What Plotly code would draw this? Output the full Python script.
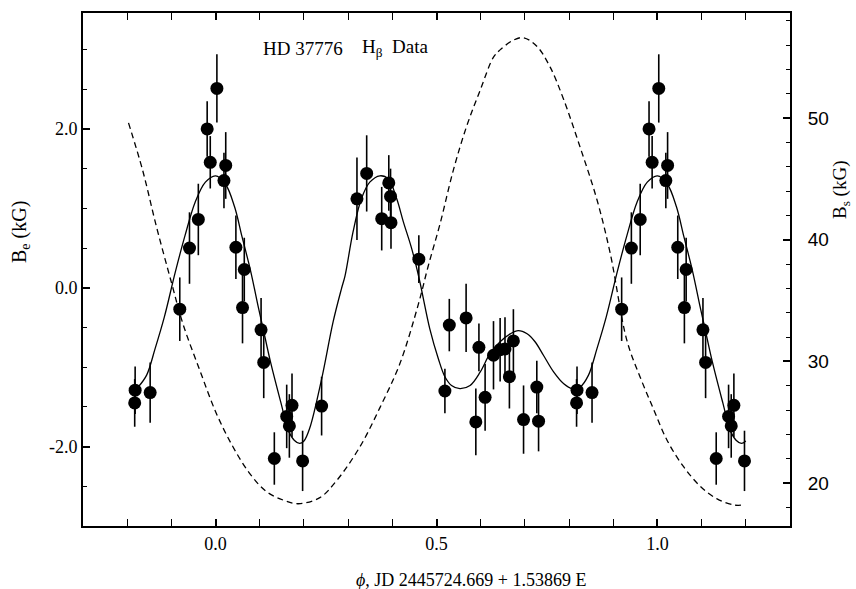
import plotly.graph_objects as go

# Measured effective field, phases folded into [0, 1)
phase = [0.003, 0.981, 0.988, 0.023, 0.019, 0.961, 0.941, 0.046, 0.065, 0.919,
         0.061, 0.103, 0.109, 0.173, 0.161, 0.167, 0.133, 0.197, 0.240, 0.320,
         0.342, 0.392, 0.396, 0.376, 0.397, 0.460, 0.529, 0.567, 0.519, 0.596,
         0.589, 0.610, 0.629, 0.644, 0.655, 0.674, 0.665, 0.697, 0.727, 0.731,
         0.818, 0.817, 0.852]
be = [2.51, 2.00, 1.58, 1.54, 1.35, 0.86, 0.50, 0.51, 0.23, -0.27,
      -0.25, -0.53, -0.94, -1.48, -1.62, -1.74, -2.15, -2.18, -1.49, 1.12,
      1.44, 1.32, 1.15, 0.87, 0.82, 0.36, -0.47, -0.38, -1.30, -0.75,
      -1.69, -1.38, -0.85, -0.78, -0.77, -0.67, -1.12, -1.66, -1.25, -1.68,
      -1.29, -1.45, -1.32]
be_err = [0.43, 0.35, 0.33, 0.42, 0.35, 0.45, 0.45, 0.40, 0.40, 0.40,
          0.45, 0.40, 0.45, 0.40, 0.40, 0.40, 0.33, 0.38, 0.37, 0.52,
          0.48, 0.35, 0.35, 0.40, 0.33, 0.30, 0.33, 0.43, 0.28, 0.30,
          0.42, 0.42, 0.43, 0.40, 0.40, 0.40, 0.40, 0.43, 0.33, 0.38,
          0.30, 0.30, 0.38]

# Model effective field over one rotation
model_phase = [0.000, 0.022, 0.043, 0.060, 0.079, 0.097, 0.107, 0.125, 0.148, 0.165,
               0.178, 0.190, 0.200, 0.213, 0.240, 0.266, 0.285, 0.293, 0.311, 0.330,
               0.349, 0.372, 0.391, 0.410, 0.425, 0.444, 0.461, 0.485, 0.504, 0.519,
               0.534, 0.553, 0.576, 0.599, 0.621, 0.644, 0.667, 0.685, 0.705, 0.723,
               0.742, 0.765, 0.788, 0.807, 0.825, 0.844, 0.863, 0.884, 0.909, 0.931,
               0.954, 0.977]
model_be = [1.41, 1.31, 1.02, 0.64, 0.22, -0.25, -0.50, -0.95, -1.45, -1.80,
            -1.92, -1.96, -1.93, -1.77, -1.15, -0.43, -0.01, 0.15, 0.70, 1.12,
            1.33, 1.41, 1.37, 1.12, 0.83, 0.49, 0.11, -0.52, -0.89, -1.12,
            -1.23, -1.27, -1.23, -1.06, -0.83, -0.68, -0.58, -0.54, -0.58, -0.68,
            -0.85, -1.06, -1.21, -1.27, -1.25, -1.10, -0.77, -0.37, 0.20, 0.66,
            1.08, 1.33]

# Model surface field
bs_phase = [-0.197, -0.165, -0.134, -0.100, -0.074, -0.036, 0.002, 0.039, 0.077, 0.115,
            0.153, 0.187, 0.236, 0.274, 0.327, 0.372, 0.417, 0.459, 0.481, 0.508,
            0.538, 0.568, 0.599, 0.629, 0.644, 0.674, 0.697, 0.727, 0.757, 0.788,
            0.825, 0.863, 0.893, 0.931, 0.961, 0.992, 1.022, 1.060, 1.098, 1.135,
            1.173, 1.196]
bs = [49.6, 45.7, 41.1, 36.5, 33.1, 29.3, 25.7, 23.0, 20.8, 19.3,
      18.6, 18.3, 18.8, 20.2, 23.0, 26.2, 29.8, 34.7, 37.8, 41.3,
      45.7, 49.3, 52.3, 55.0, 55.6, 56.4, 56.6, 55.9, 54.2, 51.5,
      47.6, 43.3, 38.9, 31.7, 28.7, 26.0, 23.5, 21.3, 19.7, 18.7,
      18.2, 18.2]

x_ticks = [0.0, 0.5, 1.0]
x_ticktext = ["0.0", "0.5", "1.0"]
be_ticks = [-2.0, 0.0, 2.0]
be_ticktext = ["-2.0", "0.0", "2.0"]
bs_ticks = [20, 30, 40, 50]
bs_ticktext = ["20", "30", "40", "50"]

PHASE_MIN, PHASE_MAX = -0.2, 1.2
CURVE_MIN = -0.18


def unfold(ph, vals, lo, hi, err=None):
    """Repeat phased values over neighbouring cycles inside [lo, hi]."""
    xs, ys, es = [], [], []
    for shift in (-1, 0, 1):
        for i, p in enumerate(ph):
            x = p + shift
            if lo <= x <= hi:
                xs.append(x)
                ys.append(vals[i])
                if err is not None:
                    es.append(err[i])
    order = sorted(range(len(xs)), key=lambda k: xs[k])
    xs = [xs[k] for k in order]
    ys = [ys[k] for k in order]
    es = [es[k] for k in order] if err is not None else None
    return xs, ys, es


mx, my, _ = unfold(model_phase, model_be, CURVE_MIN, PHASE_MAX)
dx, dy, de = unfold(phase, be, PHASE_MIN, PHASE_MAX, be_err)

serif = "Liberation Serif, Times New Roman, Times, serif"
sans = "Liberation Sans, Arial, sans-serif"

# plot-area edges in pixels, used to place the free-standing labels
L, R, T, B = 83, 790, 13, 526


def px(xp):
    return (xp - L) / (R - L)


def py(yp):
    return (B - yp) / (B - T)


fig = go.Figure()

fig.add_trace(go.Scatter(
    x=bs_phase, y=bs, yaxis="y2", mode="lines",
    line=dict(color="black", width=1.3, dash="6px,4px", shape="spline"),
    showlegend=False, hoverinfo="skip"))

fig.add_trace(go.Scatter(
    x=mx, y=my, mode="lines",
    line=dict(color="black", width=1.3, shape="spline"),
    showlegend=False, hoverinfo="skip"))

fig.add_trace(go.Scatter(
    x=dx, y=dy, mode="markers",
    marker=dict(color="black", size=13, line=dict(width=0)),
    error_y=dict(type="data", array=de, visible=True, color="black",
                 thickness=1.6, width=0),
    showlegend=False))

fig.update_layout(
    width=856, height=589,
    margin=dict(l=L, r=856 - R, t=T, b=589 - B),
    paper_bgcolor="white", plot_bgcolor="white",
    font=dict(family=serif, size=18, color="black"),
    xaxis=dict(
        range=[-0.30, 1.30], showgrid=False, zeroline=False,
        showline=True, linecolor="black", linewidth=1.8, mirror="allticks",
        ticks="inside", ticklen=7, tickwidth=1.5, tickcolor="black",
        tickvals=x_ticks, ticktext=x_ticktext,
        tickfont=dict(family=serif, size=18),
        minor=dict(dtick=0.1, tick0=0, ticks="inside", ticklen=4,
                   tickwidth=1.3, tickcolor="black", showgrid=False),
    ),
    yaxis=dict(
        range=[-3.0, 3.46], showgrid=False, zeroline=False,
        showline=True, linecolor="black", linewidth=1.8,
        ticks="inside", ticklen=7, tickwidth=1.5, tickcolor="black",
        tickvals=be_ticks, ticktext=be_ticktext,
        tickfont=dict(family=serif, size=18),
        minor=dict(dtick=0.5, tick0=0, ticks="inside", ticklen=4,
                   tickwidth=1.3, tickcolor="black", showgrid=False),
    ),
    yaxis2=dict(
        range=[16.47, 58.63], overlaying="y", side="right",
        showgrid=False, zeroline=False,
        showline=True, linecolor="black", linewidth=1.8,
        ticks="inside", ticklen=7, tickwidth=1.5, tickcolor="black",
        tickvals=bs_ticks, ticktext=bs_ticktext,
        tickfont=dict(family=sans, size=19),
        ticklabelstandoff=12,
        minor=dict(dtick=2, tick0=0, ticks="inside", ticklen=4,
                   tickwidth=1.3, tickcolor="black", showgrid=False),
    ),
    annotations=[
        dict(text="HD 37776", xref="paper", yref="paper",
             x=px(261), y=py(48), xanchor="left", yanchor="middle",
             showarrow=False, font=dict(family=serif, size=19)),
        dict(text="H<sub>β</sub>\u00a0\u00a0Data", xref="paper", yref="paper",
             x=px(360), y=py(48), xanchor="left", yanchor="middle",
             showarrow=False, font=dict(family=serif, size=19)),
        dict(text="B<sub>e</sub> (kG)", textangle=-90,
             xref="paper", yref="paper", x=px(20), y=py(232),
             xanchor="center", yanchor="middle", showarrow=False,
             font=dict(family=serif, size=20)),
        dict(text="B<sub>s</sub> (kG)", textangle=-90,
             xref="paper", yref="paper", x=px(841), y=py(190),
             xanchor="center", yanchor="middle", showarrow=False,
             font=dict(family=serif, size=19)),
        dict(text="<i>ϕ</i>, JD 2445724.669 + 1.53869 E",
             xref="paper", yref="paper", x=px(471), y=py(580),
             xanchor="center", yanchor="middle", showarrow=False,
             font=dict(family=serif, size=18)),
    ],
)

fig.write_html("out.html")
